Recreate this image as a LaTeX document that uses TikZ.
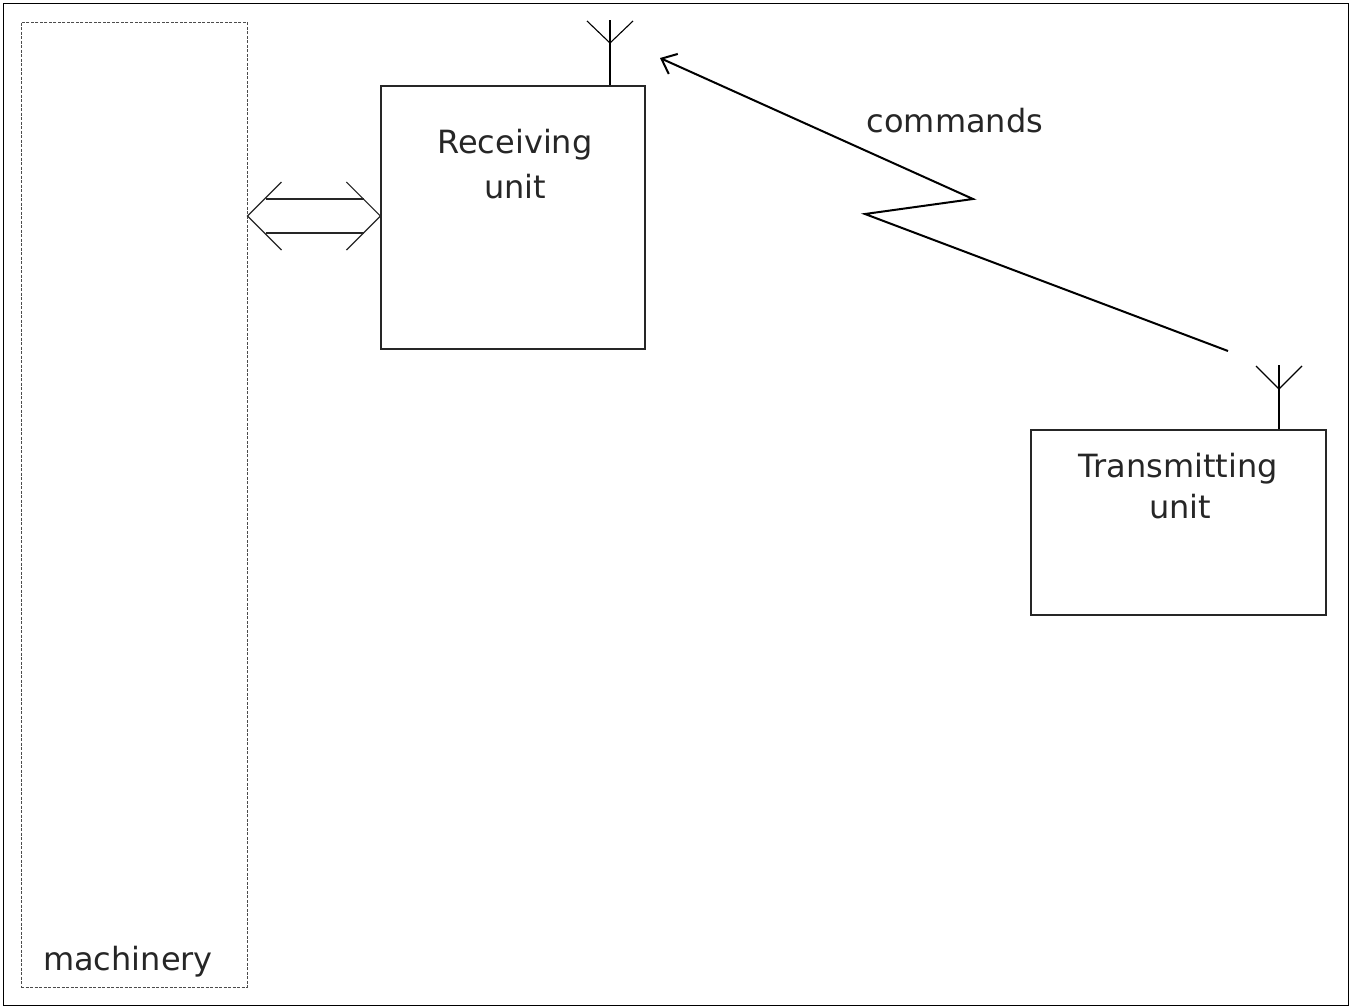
\documentclass[tikz,border=0pt]{standalone}
\usepackage{fontspec}
\setmainfont{DejaVu Sans}
\usetikzlibrary{arrows.meta,calc}
\begin{document}
\begin{tikzpicture}[x=1pt,y=-1pt,
  unitbox/.style={draw=black!85,line width=1.2pt,inner sep=0pt,fill=none},
  machbox/.style={draw=black!70,line width=1pt,dash pattern=on 3pt off 1.5pt,inner sep=0pt},
  lbl/.style={font=\fontsize{32}{40}\selectfont,text=black!85,inner sep=0pt,anchor=base},
  antenna/.style={draw=black,line width=1.8pt},
  antarm/.style={draw=black,line width=1.1pt},
  radio/.style={draw=black,line width=2pt,-{Straight Barb[length=13pt,width=22pt,line width=2pt]}},
  dbl/.style={draw=black!85,line width=1.2pt}]
\useasboundingbox (0,0) rectangle (1353,1007);
\draw[line width=1pt] (3.5,3.5) rectangle (1348.5,1005.5);

% machinery
\node[machbox,minimum width=226pt,minimum height=965pt] (mach) at (134,504.5) {};
\node[lbl] (machlbl) at (128,970) {machinery};

% receiving unit
\node[unitbox,minimum width=264pt,minimum height=263pt] (rx) at (513,217.5) {};
\node[lbl] (rxl1) at (515,153) {Receiving};
\node[lbl] (rxl2) at (515,198) {unit};
\coordinate (rxtop) at (610,20);
\coordinate (rxv) at (610,43);
\coordinate (rxa) at (587,21);
\coordinate (rxb) at (633,21);
\draw[antenna] (rx.north -| rxtop) -- (rxtop);
\draw[antarm] (rxa) -- (rxv) -- (rxb);

% transmitting unit
\node[unitbox,minimum width=295pt,minimum height=185pt] (tx) at (1178.5,522.5) {};
\node[lbl] (txl1) at (1178,477) {Transmitting};
\node[lbl] (txl2) at (1180,518) {unit};
\coordinate (txtop) at (1279,365);
\coordinate (txv) at (1279,389);
\coordinate (txa) at (1256,366);
\coordinate (txb) at (1302,366);
\draw[antenna] (tx.north -| txtop) -- (txtop);
\draw[antarm] (txa) -- (txv) -- (txb);

% radio link
\coordinate (rs) at (1228,351);
\coordinate (z1) at (865,214);
\coordinate (z2) at (973,199);
\coordinate (re) at (660,58);
\draw[radio] (rs) -- (z1) -- (z2) -- (re);
\node[lbl] (cmd) at (955,132) {commands};

% double arrow machinery <-> receiving unit
\coordinate (dL) at (mach.east |- 0,216);
\coordinate (dR) at (rx.west |- 0,216);
\draw[dbl] ($(dL)+(34,-34)$) -- (dL) -- ($(dL)+(34,34)$);
\draw[dbl] ($(dR)+(-34,-34)$) -- (dR) -- ($(dR)+(-34,34)$);
\draw[dbl] ($(dL)+(18,-17)$) -- ($(dR)+(-16,-17)$);
\draw[dbl] ($(dL)+(18,17)$) -- ($(dR)+(-16,17)$);
\end{tikzpicture}
\end{document}
